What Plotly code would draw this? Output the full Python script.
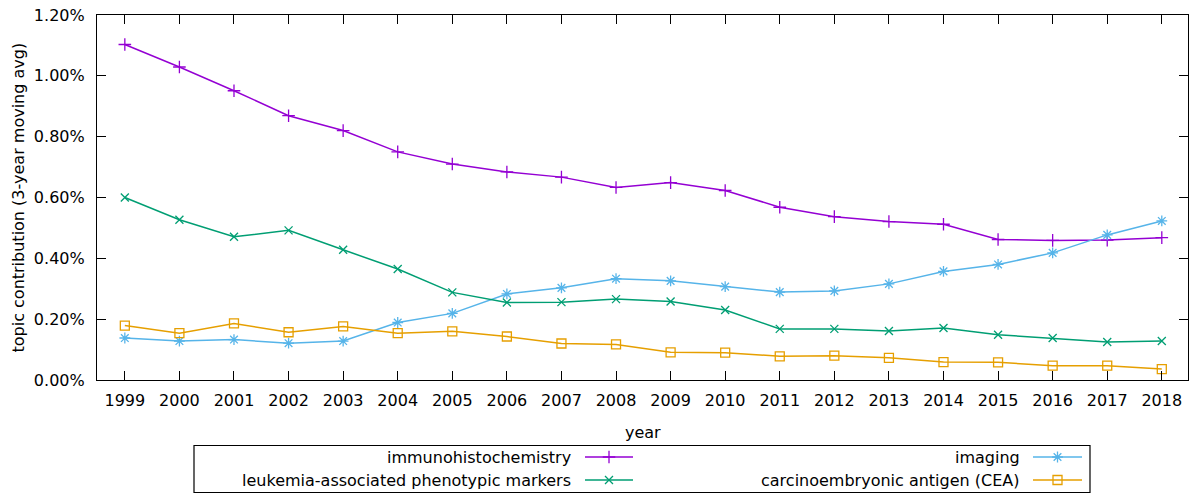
import plotly.graph_objects as go

years = list(range(1999, 2019))
immunohistochemistry = [1.103, 1.029, 0.951, 0.869, 0.820, 0.750, 0.710, 0.684, 0.667, 0.633,
                        0.649, 0.623, 0.568, 0.537, 0.521, 0.512, 0.462, 0.459, 0.460, 0.468]
imaging = [0.138, 0.128, 0.133, 0.121, 0.128, 0.189, 0.219, 0.283, 0.303, 0.333,
           0.326, 0.307, 0.289, 0.293, 0.316, 0.357, 0.380, 0.418, 0.477, 0.523]
leukemia_markers = [0.600, 0.527, 0.471, 0.492, 0.428, 0.365, 0.288, 0.255, 0.256, 0.266,
                    0.258, 0.230, 0.168, 0.168, 0.161, 0.171, 0.149, 0.138, 0.125, 0.128]
cea = [0.179, 0.154, 0.186, 0.157, 0.176, 0.154, 0.160, 0.143, 0.120, 0.117,
       0.091, 0.090, 0.078, 0.080, 0.073, 0.059, 0.058, 0.047, 0.047, 0.036]
y_ticks = [0.0, 0.2, 0.4, 0.6, 0.8, 1.0, 1.2]

series = [
    ("immunohistochemistry", immunohistochemistry, "#9400d3", "cross-thin-open", 9),
    ("imaging", imaging, "#56b4e9", "asterisk-open", 9),
    ("leukemia-associated phenotypic markers", leukemia_markers, "#009e73", "x-thin-open", 8),
    ("carcinoembryonic antigen (CEA)", cea, "#e69f00", "square-open", 9),
]

W, H = 1193, 494
L, R, T, B = 97, 1188, 15, 380
FONT = "DejaVu Sans"
FS = 16

fig = go.Figure()
for name, vals, col, sym, ms in series:
    fig.add_trace(go.Scatter(
        x=years, y=vals, mode="lines+markers", name=name,
        line=dict(color=col, width=1.5),
        marker=dict(symbol=sym, size=ms, color=col, line=dict(color=col, width=1.3)),
        showlegend=False,
    ))

# manual gnuplot-style legend (text right-aligned, sample to the right)
leg_items = [
    (series[0], 573, 585, 633, 457),
    (series[1], 1022, 1033, 1082, 457),
    (series[2], 573, 585, 633, 480),
    (series[3], 1022, 1033, 1082, 480),
]
annotations = []
shapes = []
for (name, vals, col, sym, ms), tx, lx0, lx1, ly in leg_items:
    annotations.append(dict(x=tx / W, y=1 - ly / H, xref="paper", yref="paper",
                            text=name, showarrow=False, xanchor="right", yanchor="middle",
                            font=dict(family=FONT, size=FS, color="black")))
    shapes.append(dict(type="line", xref="paper", yref="paper",
                       x0=lx0 / W, x1=lx1 / W, y0=1 - ly / H, y1=1 - ly / H,
                       line=dict(color=col, width=1.5)))
    fig.add_trace(go.Scatter(
        x=[(lx0 + lx1) / 2], y=[ly], xaxis="x2", yaxis="y2", mode="markers",
        marker=dict(symbol=sym, size=ms, color=col, line=dict(color=col, width=1.3)),
        showlegend=False, hoverinfo="skip"))

shapes.append(dict(type="rect", xref="paper", yref="paper",
                   x0=194 / W, x1=1090 / W, y0=1 - 445.5 / H, y1=1 - 492.5 / H,
                   line=dict(color="black", width=1.2)))

annotations.append(dict(x=((L + R) / 2) / W, y=1 - 432 / H, xref="paper", yref="paper",
                        text="year", showarrow=False, xanchor="center", yanchor="middle",
                        font=dict(family=FONT, size=FS, color="black")))
annotations.append(dict(x=18 / W, y=1 - ((T + B) / 2) / H, xref="paper", yref="paper",
                        text="topic contribution (3-year moving avg)", showarrow=False,
                        textangle=-90, xanchor="center", yanchor="middle",
                        font=dict(family=FONT, size=FS, color="black")))

fig.update_layout(
    width=W, height=H,
    margin=dict(l=0, r=0, t=0, b=0, pad=0, autoexpand=False),
    paper_bgcolor="white", plot_bgcolor="rgba(0,0,0,0)",
    font=dict(family=FONT, size=FS, color="black"),
    showlegend=False,
    xaxis=dict(domain=[L / W, R / W], range=[1998.49, 2018.48], automargin=False,
               tickmode="array", tickvals=years, ticktext=[str(y) for y in years],
               ticks="inside", ticklen=9, tickwidth=1, tickcolor="black",
               showline=True, linecolor="black", linewidth=1.2, mirror="allticks",
               showgrid=False, zeroline=False, ticklabelstandoff=6),
    yaxis=dict(domain=[1 - B / H, 1 - T / H], range=[0, 1.2], automargin=False,
               tickmode="array", tickvals=y_ticks, ticktext=[f"{v:.2f}%" for v in y_ticks],
               ticks="inside", ticklen=9, tickwidth=1, tickcolor="black",
               showline=True, linecolor="black", linewidth=1.2, mirror="allticks",
               showgrid=False, zeroline=False, ticklabelstandoff=8),
    xaxis2=dict(domain=[0, 1], range=[0, W], visible=False, fixedrange=True,
                anchor="y2", automargin=False),
    yaxis2=dict(domain=[0, 1], range=[H, 0], visible=False, fixedrange=True,
                anchor="x2", automargin=False),
    annotations=annotations,
    shapes=shapes,
)

POST = (
    "document.documentElement.style.margin='0';"
    "document.documentElement.style.padding='0';"
    "document.documentElement.style.overflow='hidden';"
    "document.body.style.margin='0';"
    "document.body.style.padding='0';"
    "document.body.style.overflow='hidden';"
    "var gd=document.getElementById('{plot_id}');"
    "gd.style.position='fixed';gd.style.left='0px';gd.style.top='0px';"
)

fig.write_html("out.html", config={"displayModeBar": False}, post_script=POST)
